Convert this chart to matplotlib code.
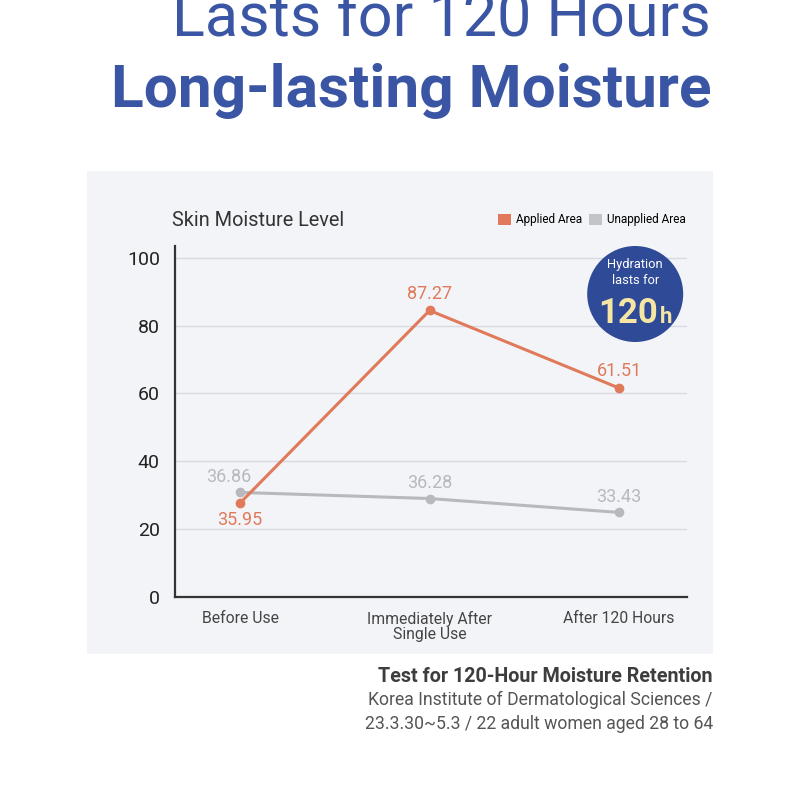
import matplotlib
matplotlib.use("Agg")
import matplotlib.pyplot as plt
from matplotlib.patches import Rectangle, Circle, Patch

plt.rcParams['font.family'] = ['Roboto', 'DejaVu Sans']

# data
stages = ["Before Use", "Immediately After\nSingle Use", "After 120 Hours"]
applied_area = [27.7, 84.5, 61.6]      # level as drawn
unapplied_area = [30.8, 29.0, 24.9]
applied_labels = ["35.95", "87.27", "61.51"]   # printed values
unapplied_labels = ["36.86", "36.28", "33.43"]
y_ticks = [0, 20, 40, 60, 80, 100]

orange = '#e07a5b'
gray = '#b7b9bf'
navy = '#3a55a3'

fig = plt.figure(figsize=(8, 8), dpi=100)

# light panel behind the chart
fig.add_artist(Rectangle((0.1088, 0.1825), 0.7825, 0.604, transform=fig.transFigure,
                         facecolor='#f3f4f8', edgecolor='none', zorder=0))

# headline
fig.text(0.889, 0.954, "Lasts for 120 Hours", ha='right', va='baseline',
         fontsize=44, color=navy)
fig.text(0.889, 0.866, "Long-lasting Moisture", ha='right', va='baseline',
         fontsize=43.5, fontweight='bold', color=navy)

ax = fig.add_axes([0.219, 0.254, 0.640, 0.438])
ax.set_facecolor('none')
x = list(range(len(stages)))

ax.plot(x, unapplied_area, color=gray, lw=2.2, marker='o', ms=6, zorder=3)
ax.plot(x, applied_area, color=orange, lw=2.2, marker='o', ms=6, zorder=4)

for i, v in enumerate(applied_area):
    dy = -12 if i == 0 else 12
    ax.annotate(applied_labels[i], (x[i], v), xytext=(0, dy), textcoords='offset points',
                ha='center', va='center', fontsize=13, color=orange)
for i, v in enumerate(unapplied_area):
    dx = -8 if i == 0 else 0
    ax.annotate(unapplied_labels[i], (x[i], v), xytext=(dx, 11), textcoords='offset points',
                ha='center', va='center', fontsize=13, color=gray)

ax.set_xlim(-0.343, 2.36)
ax.set_ylim(0, 103.4)
ax.set_yticks(y_ticks)
ax.set_xticks(x)
ax.set_xticklabels(stages, fontsize=11.3, color='#444444', linespacing=1.0)
ax.tick_params(axis='y', labelsize=14, labelcolor='#222222', length=0, pad=11)
ax.tick_params(axis='x', length=0, pad=10)
ax.grid(axis='y', color='#d8dadf', lw=1)
ax.set_axisbelow(True)
for s in ['top', 'right']:
    ax.spines[s].set_visible(False)
for s in ['left', 'bottom']:
    ax.spines[s].set_color('#333333')
    ax.spines[s].set_linewidth(1.6)

fig.text(0.215, 0.725, "Skin Moisture Level", ha='left', va='center',
         fontsize=14.3, color='#333333')

handles = [Patch(facecolor=orange, edgecolor='none', label='Applied Area'),
           Patch(facecolor='#c2c4c9', edgecolor='none', label='Unapplied Area')]
fig.legend(handles=handles, loc='center right', bbox_to_anchor=(0.863, 0.725),
           ncol=2, frameon=False, fontsize=8.5, handlelength=1.1, handleheight=1.1,
           handletextpad=0.4, columnspacing=0.6, borderaxespad=0)

# badge
fig.add_artist(Circle((0.794, 0.6325), 0.06, transform=fig.transFigure,
                      facecolor='#2f4a96', edgecolor='none', zorder=5))
fig.text(0.794, 0.669, "Hydration", ha='center', va='center', fontsize=9.3,
         color='white', zorder=6)
fig.text(0.794, 0.650, "lasts for", ha='center', va='center', fontsize=9.3,
         color='white', zorder=6)
fig.text(0.823, 0.596, "120", ha='right', va='baseline', fontsize=25,
         fontweight='bold', color='#f6e6a4', zorder=6)
fig.text(0.825, 0.596, "h", ha='left', va='baseline', fontsize=16,
         fontweight='bold', color='#f6e6a4', zorder=6)

# footnote
fig.text(0.891, 0.155, "Test for 120-Hour Moisture Retention", ha='right', va='center',
         fontsize=14.2, fontweight='bold', color='#3d3d3d')
fig.text(0.891, 0.125, "Korea Institute of Dermatological Sciences /", ha='right',
         va='center', fontsize=12.7, color='#555555')
fig.text(0.891, 0.095, "23.3.30~5.3 / 22 adult women aged 28 to 64", ha='right',
         va='center', fontsize=12.7, color='#555555')

fig.savefig('out.png', dpi=100, facecolor='white')
